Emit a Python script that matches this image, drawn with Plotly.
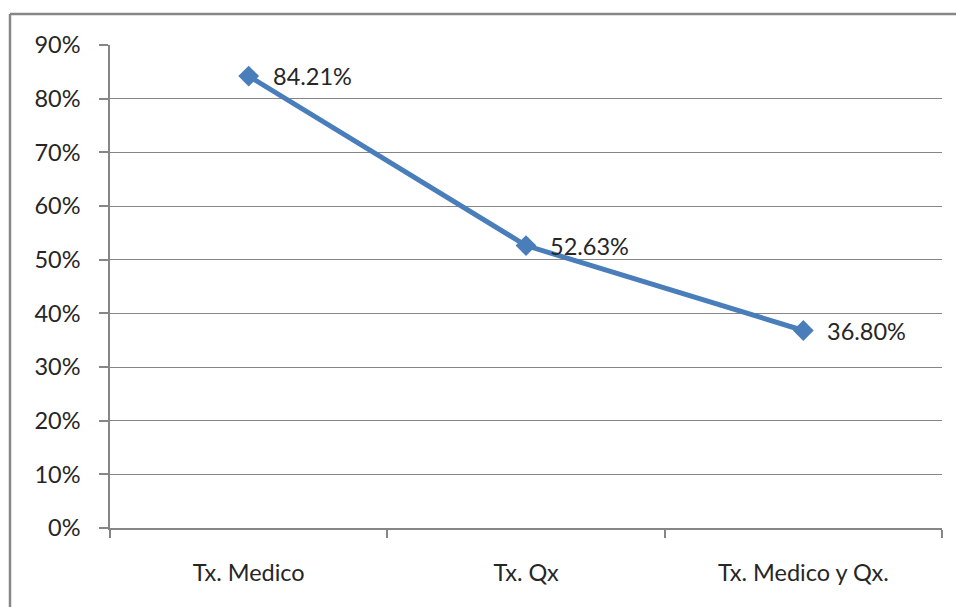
import plotly.graph_objects as go

# Treatment categories and their percentages
categories = ["Tx. Medico", "Tx. Qx", "Tx. Medico y Qx."]
values = [0.8421, 0.5263, 0.3680]
value_labels = ["84.21%", "52.63%", "36.80%"]

W, H = 956, 607
L, R, T, B = 110, 14, 45, 79
pw, ph = W - L - R, H - T - B

line_blue = "#4A7EBB"
axis_gray = "#868686"
font = dict(family="Lato, 'Open Sans', sans-serif", size=23.5, color="#262626")

fig = go.Figure()
fig.add_trace(go.Scatter(
    x=categories, y=values, mode="lines+markers",
    line=dict(color=line_blue, width=5),
    marker=dict(symbol="diamond", size=16, color=line_blue),
    hoverinfo="skip", showlegend=False,
))

for c, v, t in zip(categories, values, value_labels):
    fig.add_annotation(x=c, y=v, text=t, showarrow=False,
                       xanchor="left", yanchor="middle", xshift=22,
                       font=font)

# outer chart frame: only its top and left edges fall inside the page
fx0 = (10 - L) / pw
fy1 = 1 + (T - 14) / ph
frame = dict(color=axis_gray, width=2.5)
fig.add_shape(type="line", xref="paper", yref="paper",
              x0=fx0, x1=1 + (R + 5) / pw, y0=fy1, y1=fy1, line=frame)
fig.add_shape(type="line", xref="paper", yref="paper",
              x0=fx0, x1=fx0, y0=-(B + 5) / ph, y1=fy1, line=frame)

fig.update_layout(
    width=W, height=H,
    margin=dict(l=L, r=R, t=T, b=B),
    paper_bgcolor="white", plot_bgcolor="white",
    font=font,
    xaxis=dict(
        type="category", tickson="boundaries", showgrid=False,
        showline=True, linecolor=axis_gray, linewidth=1.5,
        ticks="outside", ticklen=8, tickcolor=axis_gray, tickwidth=1.5,
        ticklabelstandoff=23, range=[-0.5, 2.5],
        tickfont=font, zeroline=False,
    ),
    yaxis=dict(
        range=[0, 0.9], dtick=0.1, tickformat=".0%",
        showgrid=True, gridcolor=axis_gray, gridwidth=1.2,
        showline=True, linecolor=axis_gray, linewidth=1.5,
        ticks="outside", ticklen=9, tickcolor=axis_gray, tickwidth=1.5,
        ticklabelstandoff=14, zeroline=False, tickfont=font,
    ),
)

fig.write_html("out.html")
